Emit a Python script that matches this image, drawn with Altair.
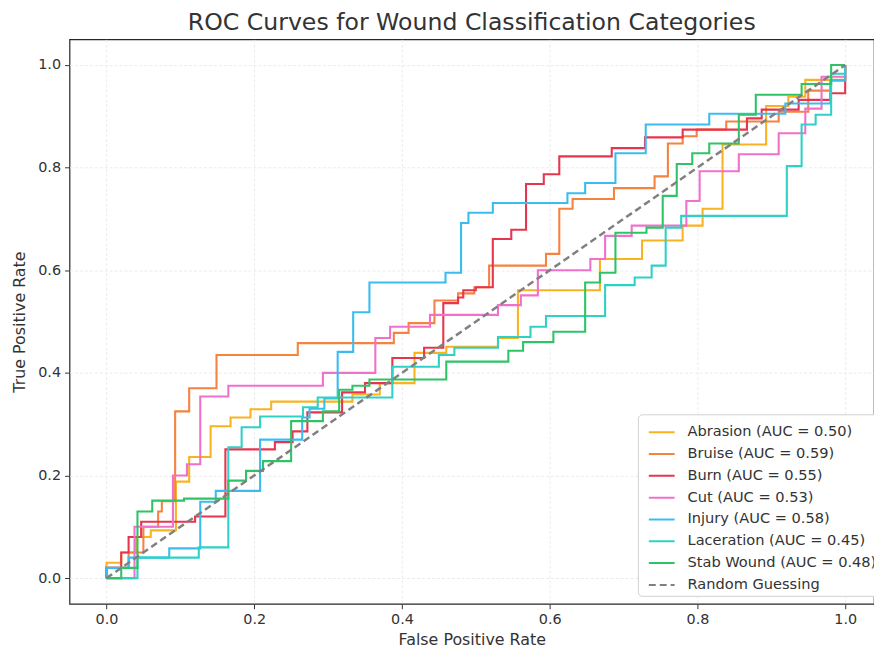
import altair as alt
import pandas as pd

names = ["Abrasion", "Bruise", "Burn", "Cut", "Injury", "Laceration", "Stab Wound"]
aucs = ["0.50", "0.59", "0.55", "0.53", "0.58", "0.45", "0.48"]
colors = ["#F9B321", "#F6823F", "#E8354F", "#F170CC", "#3BBCF1", "#2FD1C6", "#2EC466"]

# ROC step points: (fpr where a horizontal run starts, tpr of that run)
abrasion_fpr = [0, 0.0, 0.02, 0.04, 0.06, 0.094, 0.112, 0.141, 0.168, 0.195, 0.223, 0.333, 0.37, 0.417, 0.46, 0.53, 0.557, 0.668, 0.725, 0.78, 0.807, 0.834, 0.893, 0.923, 0.946, 1.0]
abrasion_tpr = [0, 0.03, 0.05, 0.08, 0.093, 0.188, 0.236, 0.296, 0.313, 0.329, 0.344, 0.358, 0.38, 0.439, 0.451, 0.468, 0.561, 0.622, 0.658, 0.687, 0.72, 0.845, 0.92, 0.938, 0.971, 1.0]

bruise_fpr = [0, 0.0, 0.03, 0.05, 0.07, 0.075, 0.093, 0.112, 0.149, 0.259, 0.389, 0.409, 0.444, 0.476, 0.498, 0.518, 0.595, 0.613, 0.631, 0.687, 0.742, 0.76, 0.78, 0.799, 0.839, 0.91, 0.95, 0.98, 1.0]
bruise_tpr = [0, 0.02, 0.05, 0.10, 0.13, 0.15, 0.325, 0.37, 0.435, 0.458, 0.478, 0.497, 0.541, 0.555, 0.567, 0.609, 0.632, 0.72, 0.739, 0.76, 0.783, 0.847, 0.861, 0.874, 0.89, 0.909, 0.95, 0.97, 1.0]

burn_fpr = [0, 0.0, 0.02, 0.03, 0.047, 0.12, 0.161, 0.228, 0.252, 0.272, 0.319, 0.35, 0.387, 0.43, 0.456, 0.476, 0.483, 0.5, 0.523, 0.548, 0.568, 0.592, 0.613, 0.684, 0.729, 0.78, 0.867, 0.887, 0.937, 0.98, 1.0]
burn_tpr = [0, 0.02, 0.05, 0.08, 0.11, 0.12, 0.251, 0.265, 0.286, 0.323, 0.362, 0.38, 0.429, 0.449, 0.536, 0.547, 0.561, 0.567, 0.661, 0.679, 0.768, 0.787, 0.822, 0.838, 0.859, 0.874, 0.896, 0.913, 0.932, 0.945, 1.0]

cut_fpr = [0, 0.038, 0.09, 0.109, 0.127, 0.165, 0.293, 0.364, 0.384, 0.438, 0.53, 0.561, 0.584, 0.655, 0.675, 0.711, 0.785, 0.803, 0.856, 0.91, 0.946, 0.968, 1.0]
cut_tpr = [0, 0.1, 0.2, 0.222, 0.354, 0.375, 0.4, 0.468, 0.49, 0.513, 0.532, 0.551, 0.6, 0.622, 0.667, 0.687, 0.735, 0.793, 0.826, 0.867, 0.915, 0.977, 1.0]

injury_fpr = [0, 0.0, 0.03, 0.085, 0.127, 0.148, 0.208, 0.265, 0.275, 0.295, 0.313, 0.334, 0.356, 0.459, 0.48, 0.49, 0.523, 0.624, 0.648, 0.689, 0.73, 0.816, 0.919, 0.98, 1.0]
injury_tpr = [0, 0.02, 0.04, 0.058, 0.149, 0.17, 0.27, 0.313, 0.33, 0.35, 0.441, 0.518, 0.576, 0.595, 0.692, 0.712, 0.731, 0.75, 0.77, 0.828, 0.884, 0.905, 0.925, 0.97, 1.0]

laceration_fpr = [0, 0.042, 0.125, 0.165, 0.183, 0.208, 0.266, 0.286, 0.387, 0.45, 0.471, 0.53, 0.574, 0.595, 0.675, 0.715, 0.738, 0.757, 0.778, 0.921, 0.941, 0.96, 0.981, 1.0]
laceration_tpr = [0, 0.04, 0.06, 0.255, 0.294, 0.315, 0.333, 0.352, 0.412, 0.435, 0.449, 0.47, 0.49, 0.511, 0.571, 0.586, 0.609, 0.683, 0.706, 0.803, 0.884, 0.903, 0.983, 1.0]

stab_fpr = [0, 0.02, 0.042, 0.062, 0.105, 0.165, 0.189, 0.212, 0.25, 0.293, 0.315, 0.333, 0.356, 0.46, 0.544, 0.564, 0.605, 0.648, 0.668, 0.689, 0.731, 0.753, 0.772, 0.793, 0.816, 0.856, 0.879, 0.941, 0.981, 1.0]
stab_tpr = [0, 0.02, 0.13, 0.151, 0.155, 0.19, 0.209, 0.228, 0.306, 0.325, 0.367, 0.375, 0.387, 0.422, 0.443, 0.46, 0.48, 0.576, 0.595, 0.673, 0.683, 0.745, 0.807, 0.828, 0.847, 0.903, 0.942, 0.963, 1.0, 1.0]

diag_fpr = [0.0, 1.0]
diag_tpr = [0.0, 1.0]
random_label = "Random Guessing"

series = [
    (abrasion_fpr, abrasion_tpr),
    (bruise_fpr, bruise_tpr),
    (burn_fpr, burn_tpr),
    (cut_fpr, cut_tpr),
    (injury_fpr, injury_tpr),
    (laceration_fpr, laceration_tpr),
    (stab_fpr, stab_tpr),
]

labels = [f"{n} (AUC = {a})" for n, a in zip(names, aucs)]
rows = []
for k, (lab, (fx, ty)) in enumerate(zip(labels, series)):
    for i, (fv, tv) in enumerate(zip(fx, ty)):
        rows.append({"label": lab, "fpr": fv, "tpr": tv, "idx": i, "sorder": k})
df = pd.DataFrame(rows)
ddf = pd.DataFrame({"label": random_label, "fpr": diag_fpr, "tpr": diag_tpr, "idx": [0, 1], "sorder": 7})

domain = labels + [random_label]
crange = colors + ["#808080"]
drange = [[1, 0]] * 7 + [[7, 4]]

xscale = alt.Scale(domain=[-0.05, 1.039], nice=False, zero=False)
yscale = alt.Scale(domain=[-0.05, 1.05], nice=False, zero=False)
ticks = [0.0, 0.2, 0.4, 0.6, 0.8, 1.0]

legend = alt.Legend(
    title=None, orient="none", legendX=573, legendY=378,
    symbolType="stroke", symbolStrokeWidth=2, symbolSize=676, symbolOffset=6,
    labelFontSize=14.7, labelColor="#333333", labelFont="DejaVu Sans", labelLimit=0,
    fillColor="white", strokeColor="#d0d0d0", cornerRadius=4, padding=4,
    rowPadding=1, labelOffset=12,
)

color = alt.Color("label:N", scale=alt.Scale(domain=domain, range=crange), legend=legend, sort=domain)
dash = alt.StrokeDash("label:N", scale=alt.Scale(domain=domain, range=drange), legend=legend, sort=domain)

x = alt.X("fpr:Q", scale=xscale, title="False Positive Rate",
          axis=alt.Axis(values=ticks, format=".1f"))
y = alt.Y("tpr:Q", scale=yscale, title="True Positive Rate",
          axis=alt.Axis(values=ticks, format=".1f"))

curves = alt.Chart(df).mark_line(interpolate="step-after", strokeWidth=2.1).encode(
    x=x, y=y, color=color, strokeDash=dash, order="idx:Q", detail="sorder:N"
)
diag = alt.Chart(ddf).mark_line(strokeWidth=2.5).encode(
    x=x, y=y, color=color, strokeDash=dash, order="idx:Q"
)

chart = alt.layer(curves, diag).properties(
    width=811, height=569,
    padding={"left": 62, "top": 29, "right": 0, "bottom": 46},
    autosize=alt.AutoSizeParams(type="none"),
    title=alt.TitleParams("ROC Curves for Wound Classification Categories",
                          fontSize=23.8, font="DejaVu Sans", fontWeight="normal",
                          color="#333333", offset=5, anchor="middle"),
).configure_view(stroke="#262626", strokeWidth=1.2).configure_axis(
    domain=False, grid=True, gridColor="#ebebeb", gridWidth=1, gridDash=[3, 2],
    tickColor="#333333", tickSize=5, tickWidth=1,
    labelFontSize=14.5, labelColor="#333333", labelFont="DejaVu Sans", labelPadding=4,
    titleFontSize=16, titleColor="#333333", titleFont="DejaVu Sans", titleFontWeight="normal",
).configure_axisX(titlePadding=6).configure_axisY(titlePadding=10)

chart.save("out.html", embed_options={"renderer": "svg", "actions": False})
